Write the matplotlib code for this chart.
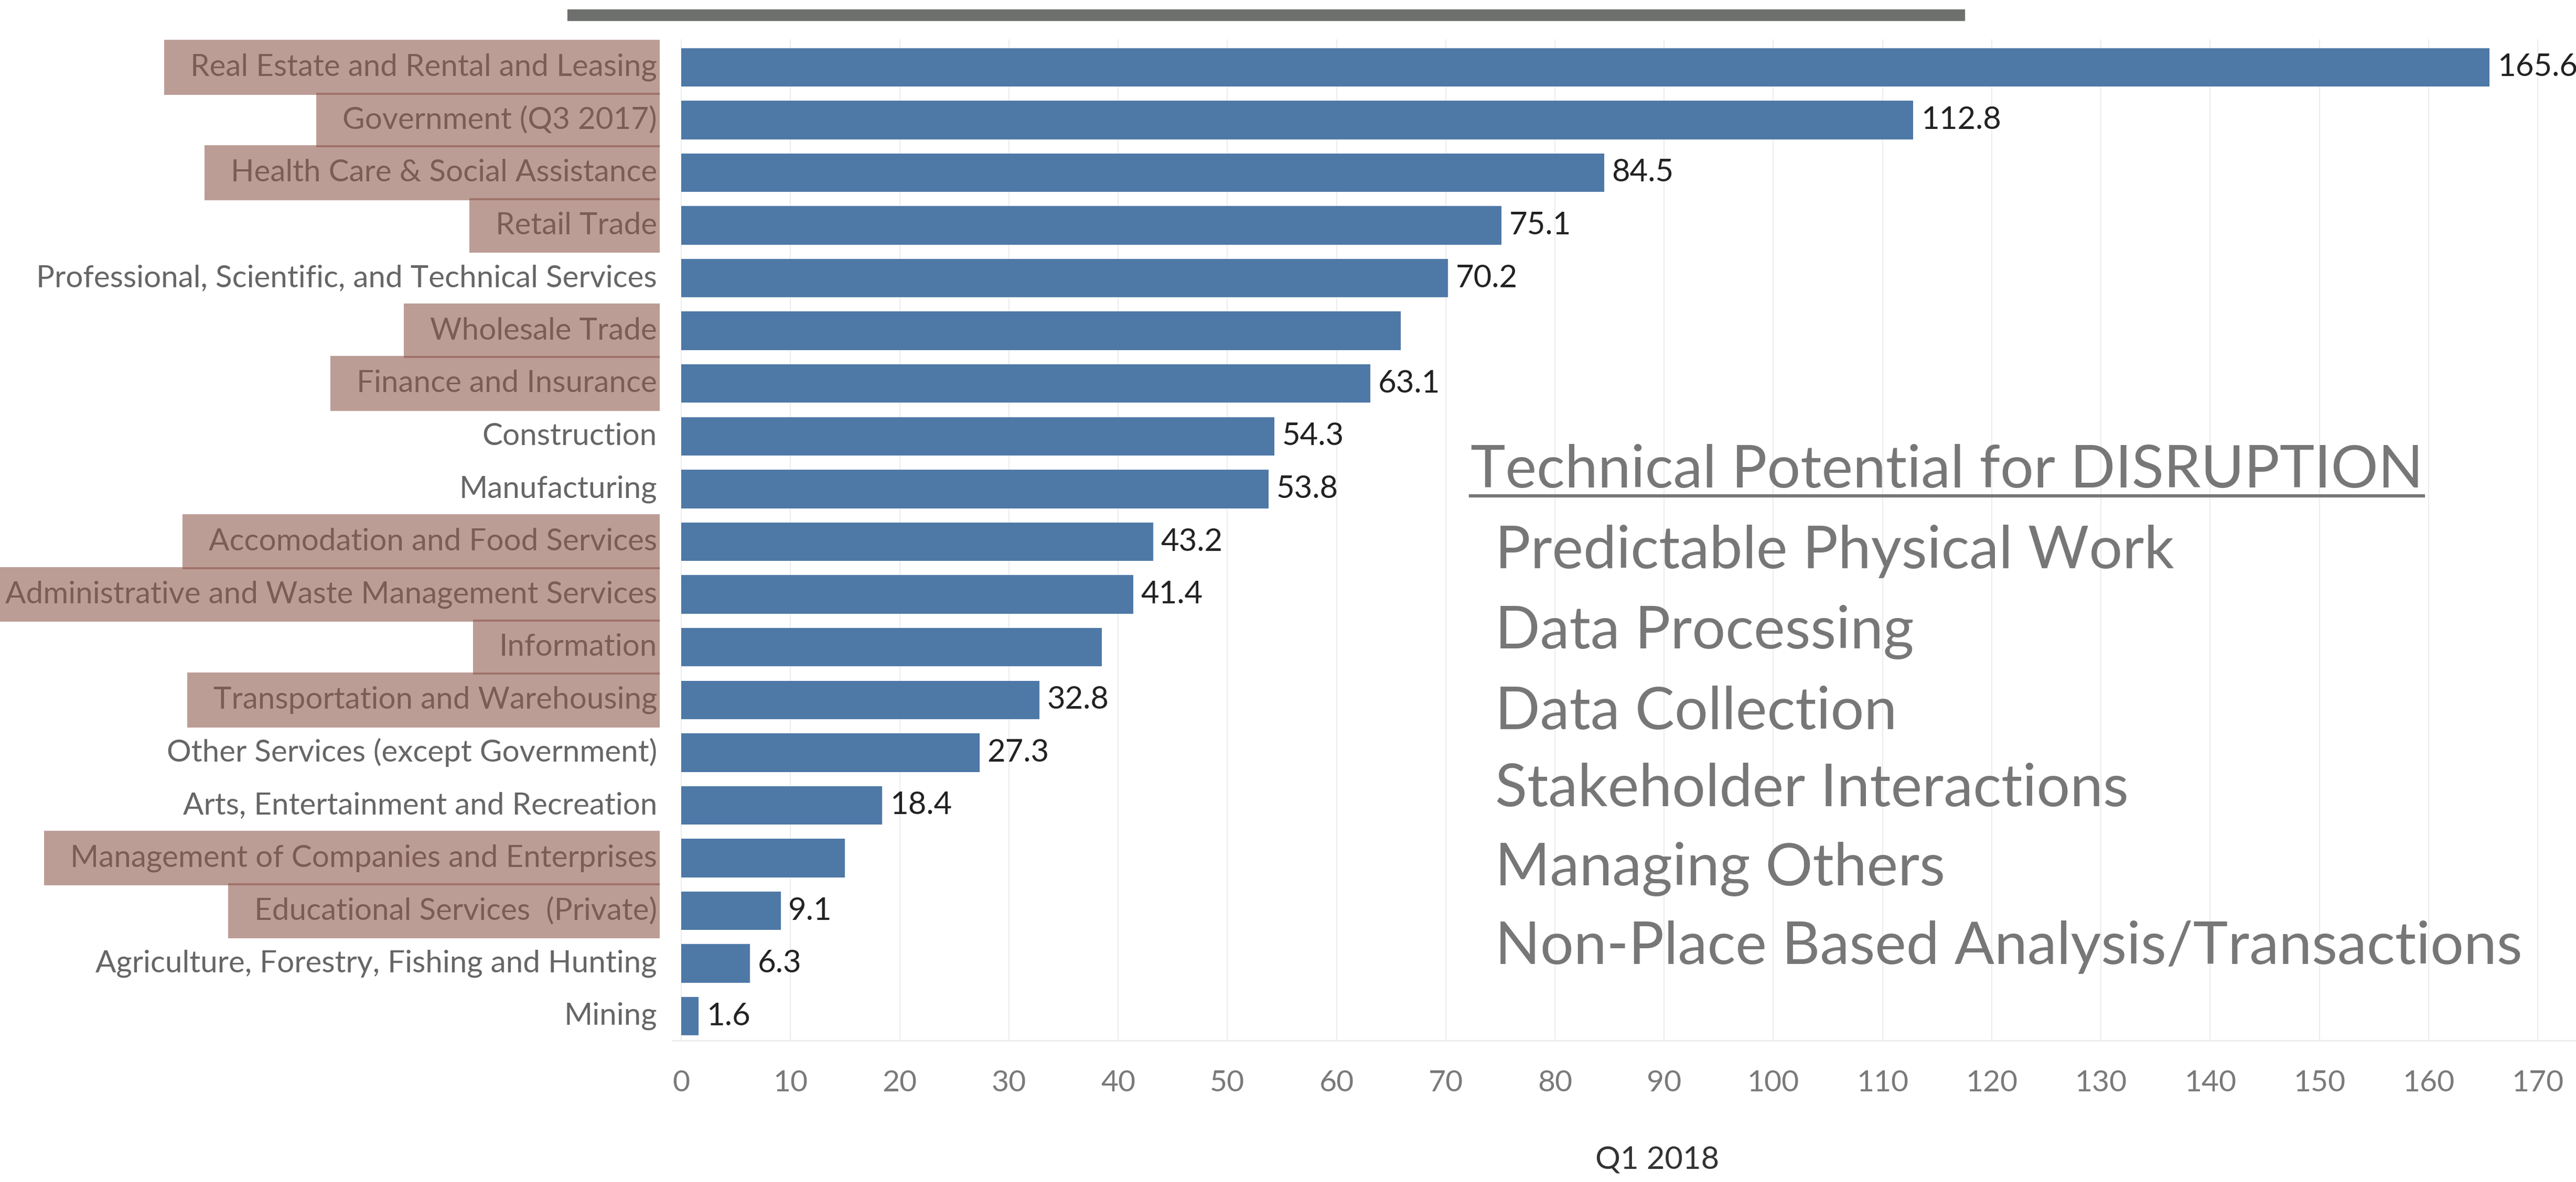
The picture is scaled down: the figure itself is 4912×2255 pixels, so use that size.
import numpy as np
import matplotlib
matplotlib.use('Agg')
import matplotlib.pyplot as plt
from matplotlib.patches import Rectangle
from matplotlib.lines import Line2D
from matplotlib.transforms import blended_transform_factory

plt.rcParams['font.family'] = ['Lato', 'DejaVu Sans']

# data
categories = [
    "Real Estate and Rental and Leasing",
    "Government (Q3 2017)",
    "Health Care & Social Assistance",
    "Retail Trade",
    "Professional, Scientific, and Technical Services",
    "Wholesale Trade",
    "Finance and Insurance",
    "Construction",
    "Manufacturing",
    "Accomodation and Food Services",
    "Administrative and Waste Management Services",
    "Information",
    "Transportation and Warehousing",
    "Other Services (except Government)",
    "Arts, Entertainment and Recreation",
    "Management of Companies and Enterprises",
    "Educational Services  (Private)",
    "Agriculture, Forestry, Fishing and Hunting",
    "Mining",
]
values = [165.6, 112.8, 84.5, 75.1, 70.2, 65.9, 63.1, 54.3, 53.8, 43.2,
          41.4, 38.5, 32.8, 27.3, 18.4, 15.0, 9.1, 6.3, 1.6]
# some bars carry no value label in the original
value_labels = ['165.6', '112.8', '84.5', '75.1', '70.2', '', '63.1', '54.3', '53.8', '43.2',
                '41.4', '', '32.8', '27.3', '18.4', '', '9.1', '6.3', '1.6']
highlighted = [True, True, True, True, False, True, True, False, False, True,
               True, True, True, False, False, True, True, False, False]
x_ticks = list(range(0, 180, 10))
x_title = 'Q1 2018'
panel_title = 'Technical Potential for DISRUPTION'
panel_items = [
    'Predictable Physical Work',
    'Data Processing',
    'Data Collection',
    'Stakeholder Interactions',
    'Managing Others',
    'Non-Place Based Analysis/Transactions',
]

W, H = 4912, 2255
fig = plt.figure(figsize=(W / 100, H / 100), dpi=100)
fig.patch.set_facecolor('white')


def fx(px):
    return px / W


def fy(py):
    return 1 - py / H


ax = fig.add_axes([fx(1282), fy(1985), 1 - fx(1282), fy(75) - fy(1985)])
y = np.arange(len(categories))
ax.barh(y, values, height=0.73, color='#4e79a7', zorder=2)
ax.set_ylim(len(categories) - 1 + 0.46, -0.53)
ax.set_xlim(-0.82, 173.5)
ax.set_xticks(x_ticks)
ax.set_yticks([])
for s in ['top', 'right', 'left']:
    ax.spines[s].set_visible(False)
ax.spines['bottom'].set_color('#eeeeee')
ax.spines['bottom'].set_linewidth(2)
ax.grid(axis='x', color='#ececec', lw=1.5, zorder=0)
ax.tick_params(axis='x', length=0, pad=40, labelsize=41, labelcolor='#7a7a7a')

# value labels
for i, (v, lab) in enumerate(zip(values, value_labels)):
    if lab:
        ax.text(v + 0.7, i, lab, va='center', ha='left', fontsize=43, color='#222222')

# category labels, right aligned left of the bars
trans = blended_transform_factory(fig.transFigure, ax.transData)
cat_texts = []
for i, cat in enumerate(categories):
    t = ax.text(fx(1253), i, cat, transform=trans, ha='right', va='center',
                fontsize=42, color='#666666', clip_on=False)
    cat_texts.append(t)

# panel text on the right
title_txt = fig.text(fx(2804), fy(930), panel_title, fontsize=80,
                     color='#777777', va='baseline')
item_base = [1084, 1237, 1391, 1538, 1689, 1839]
item_txts = []
for item, b in zip(panel_items, item_base):
    item_txts.append(fig.text(fx(2851), fy(b), item, fontsize=80,
                              color='#777777', va='baseline'))

fig.canvas.draw()
r = fig.canvas.get_renderer()

# fit the panel font to the width of the title in the original
w = title_txt.get_window_extent(r).width
size = 80 * 1816 / w
title_txt.set_fontsize(size)
for t in item_txts:
    t.set_fontsize(size)
fig.canvas.draw()

# highlight boxes, semi transparent brown over the labels
inv = fig.transFigure.inverted()
for i, t in enumerate(cat_texts):
    if not highlighted[i]:
        continue
    bb = t.get_window_extent(r)
    x0 = max(bb.x0 - 50, 0)
    x1 = 1258
    ya = ax.transData.transform((0, i - 0.5))[1] + 2
    yb = ax.transData.transform((0, i + 0.5))[1] - 2
    (fx0, fy0) = inv.transform((x0, yb))
    (fx1, fy1) = inv.transform((x1, ya))
    fig.add_artist(Rectangle((fx0, fy0), fx1 - fx0, fy1 - fy0, transform=fig.transFigure,
                             facecolor='#8c564b', alpha=0.58, lw=0, zorder=5))

# underline of the panel title
bb = title_txt.get_window_extent(r)
fig.add_artist(Line2D([fx(bb.x0), fx(bb.x1)], [fy(946), fy(946)], lw=4.5,
                      color='#777777', transform=fig.transFigure))

# dark bar at the top
fig.add_artist(Line2D([fx(1082), fx(3747)], [fy(29), fy(29)], lw=16, color='#6e706d',
                      solid_capstyle='butt', transform=fig.transFigure))

fig.text(fx(3160), fy(2213), x_title, ha='center', va='center', fontsize=43, color='#333333')

fig.savefig('out.png', dpi=100)
